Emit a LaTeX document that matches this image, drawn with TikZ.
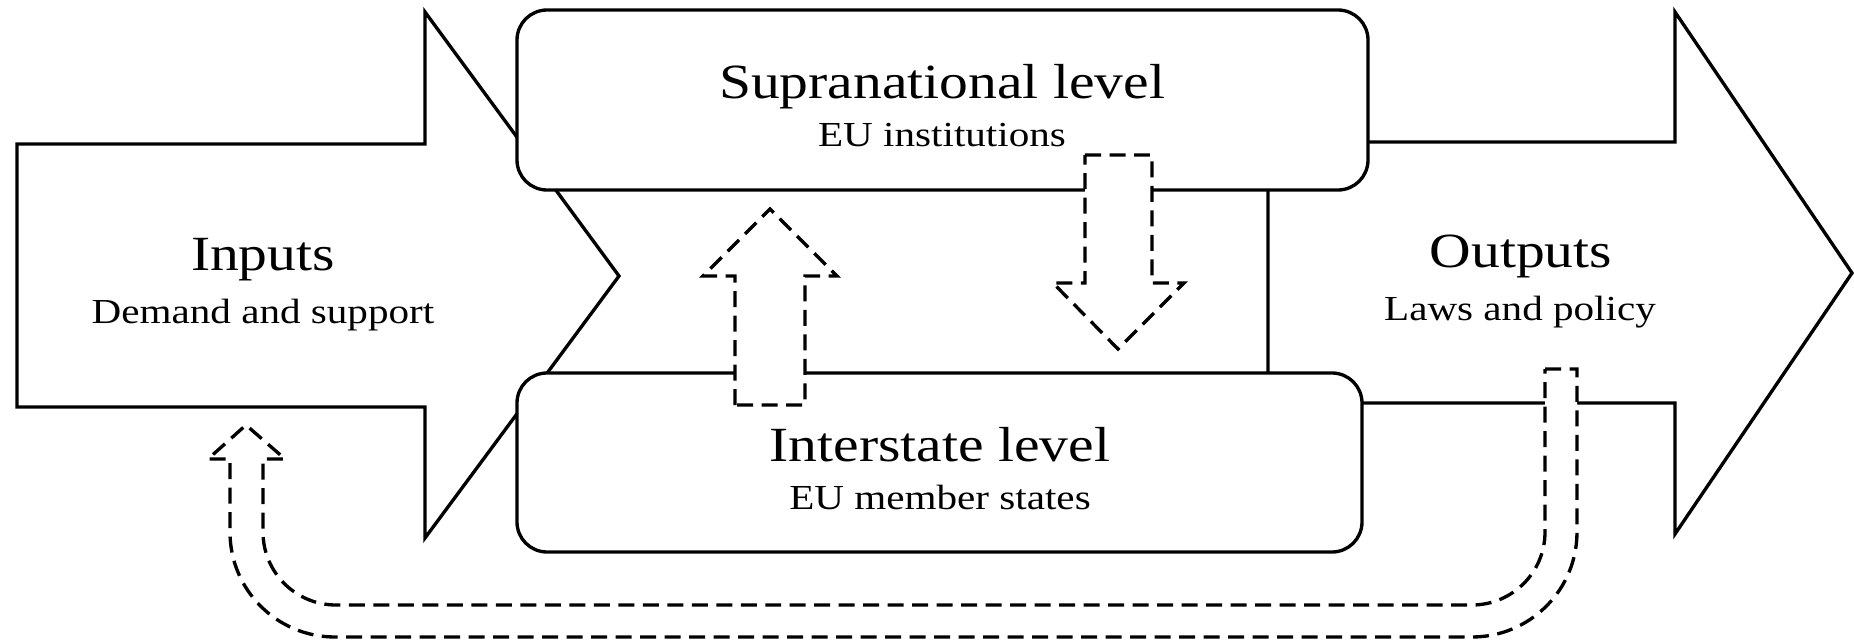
\documentclass[tikz,border=0pt]{standalone}
\usepackage{fontspec}
\setmainfont{Liberation Serif}[FakeStretch=1.17]
\usepackage{tikz}
\usetikzlibrary{calc}

\begin{document}
\begin{tikzpicture}[x=0.02cm, y=-0.02cm,
		bigarrow/.style={draw=black, fill=white, line width=1.9pt},
		levelbox/.style={draw=black, fill=white, line width=1.9pt, rounded corners=0.6cm},
		hollow/.style={draw=black, fill=white, line width=1.9pt, dash pattern=on 0.32cm off 0.17cm},
		headtext/.style={font=\fontsize{28}{30}\selectfont, anchor=base, inner sep=0pt},
		subtext/.style={font=\fontsize{20}{22}\selectfont, anchor=base, inner sep=0pt}]
		%%%%% START %%%%%
		
		\useasboundingbox (0, 0) rectangle (1854, 642);
		
		% inputs and outputs
		\draw[bigarrow] (17, 144) -- (425, 144) -- (425, 12) -- (619, 276) -- (425, 538) -- (425, 407) -- (17, 407) -- cycle;
		\draw[bigarrow] (1268, 142) -- (1675, 142) -- (1675, 12) -- (1852, 273) -- (1675, 534) -- (1675, 403) -- (1268, 403) -- cycle;
		
		% the two levels
		\draw[levelbox] (517, 10) rectangle (1368, 190);
		\draw[levelbox] (517, 373) rectangle (1362, 552);
		
		% up and down between the levels
		\draw[hollow] (735, 405) -- (735, 276) -- (703, 276) -- (770, 209) -- (837, 276) -- (805, 276) -- (805, 405) -- cycle;
		\draw[hollow] (1085, 155) -- (1152, 155) -- (1152, 283) -- (1184, 283) -- (1118, 349) -- (1053, 283) -- (1085, 283) -- cycle;
		
		% feedback from outputs to inputs
		\draw[hollow] (1545, 369) -- (1577, 369) -- (1577, 532) arc (0:90:105) -- (335, 637) arc (90:180:105)
			-- (230, 459) -- (208, 459) -- (246, 425) -- (285, 459) -- (263, 459) -- (263, 532) arc (180:90:73)
			-- (1472, 605) arc (90:0:73) -- cycle;
		
		\node[headtext] (supratext) at (942, 99) {Supranational level};
		\node[subtext] (supranote) at (942, 147) {EU institutions};
		\node[headtext] (intertext) at (940, 461) {Interstate level};
		\node[subtext] (internote) at (940, 509) {EU member states};
		\node[headtext] (intext) at (263, 270) {Inputs};
		\node[subtext] (innote) at (263, 323) {Demand and support};
		\node[headtext] (outtext) at (1521, 267) {Outputs};
		\node[subtext] (outnote) at (1520, 320) {Laws and policy};
		
		%%%%% END %%%%%
	\end{tikzpicture}
\end{document}
